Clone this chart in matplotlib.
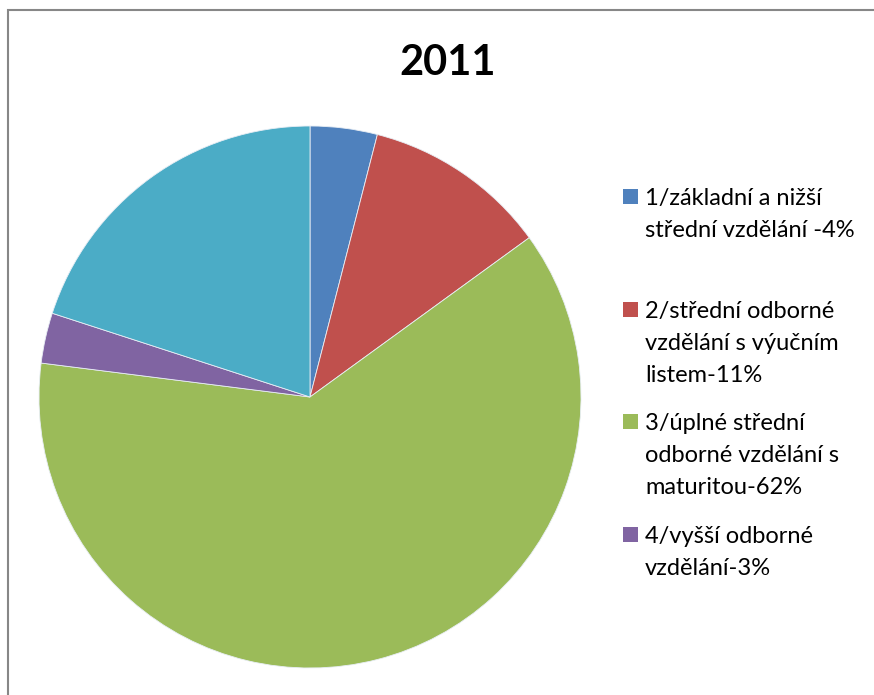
import matplotlib.pyplot as plt
from matplotlib.patches import Rectangle

plt.rcParams['font.family'] = ['Lato', 'DejaVu Sans']

# podíly vzdělání v roce 2011 (v %)
popisky = ['1/základní a nižší\nstřední vzdělání -4%',
           '2/střední odborné\nvzdělání s výučním\nlistem-11%',
           '3/úplné střední\nodborné vzdělání s\nmaturitou-62%',
           '4/vyšší odborné\nvzdělání-3%',
           '5/vysokoškolské vzdělání-20%']
hodnoty = [4, 11, 62, 3, 20]
barvy = ['#4F81BD', '#C0504D', '#9BBB59', '#8064A2', '#4BACC6']
titulek = '2011'

W, H = 874, 695
fig = plt.figure(figsize=(W / 100, H / 100), dpi=100)

# rámeček grafu (pravý a dolní okraj jsou mimo obrázek)
fig.patches.append(Rectangle((8 / W, -0.1), 1.2, 1 - 10 / H + 0.1,
                             transform=fig.transFigure, fill=False,
                             edgecolor='#878787', linewidth=1.5))

# koláč: střed (310, 397) px, poloměr 271 px
cx, cy, r = 310, 397, 271
ax = fig.add_axes([(cx - r) / W, 1 - (cy + r) / H, 2 * r / W, 2 * r / H])
ax.pie(hodnoty, colors=barvy, startangle=90, counterclock=False,
       wedgeprops=dict(linewidth=0.6, edgecolor='#e8eef5'))
ax.set_aspect('equal')
ax.set_xlim(-1, 1)
ax.set_ylim(-1, 1)
ax.axis('off')

fig.text(448 / W, 1 - 75 / H, titulek, ha='center', va='baseline',
         fontsize=30, fontweight='bold')

# legenda - jen první čtyři položky se vejdou
for i in range(4):
    base = 205 + 112.7 * i
    fig.patches.append(Rectangle((623 / W, 1 - (base - 1) / H), 15 / W, 15 / H,
                                 transform=fig.transFigure,
                                 facecolor=barvy[i], edgecolor='none'))
    for j, radek in enumerate(popisky[i].split('\n')):
        fig.text(645 / W, 1 - (base + 32 * j) / H, radek, ha='left',
                 va='baseline', fontsize=17)

fig.savefig('out.png', dpi=100)
